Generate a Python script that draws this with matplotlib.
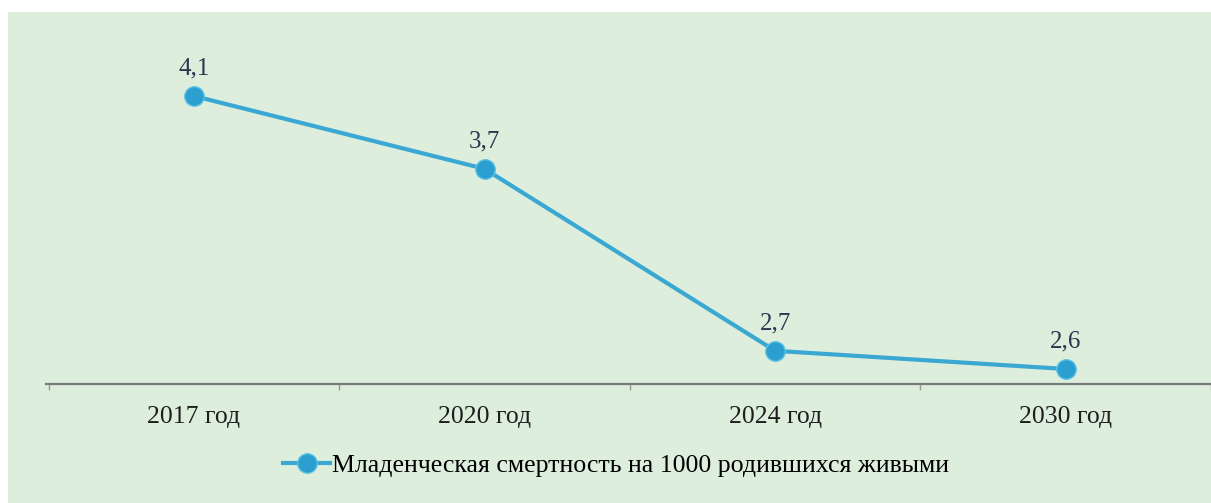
import numpy as np
import matplotlib
matplotlib.use('Agg')
import matplotlib.pyplot as plt
from matplotlib.patches import Rectangle

# данные с графика
years = ['2017 год', '2020 год', '2024 год', '2030 год']
values = [4.1, 3.7, 2.7, 2.6]
value_labels = ['4,1', '3,7', '2,7', '2,6']
series_name = 'Младенческая смертность на 1000 родившихся живыми'

plt.rcParams['font.family'] = ['Liberation Serif', 'DejaVu Serif']

W, H = 1211, 503
fig = plt.figure(figsize=(W / 100, H / 100), dpi=100)
fig.patch.set_facecolor('white')

# светло-зелёная подложка
fig.add_artist(Rectangle((8 / W, 0), 1, (H - 12) / H, transform=fig.transFigure,
                         facecolor='#ddefdc', edgecolor='none', zorder=0))

ax = fig.add_axes([46 / W, (H - 384) / H, (W - 46) / W, (384 - 30) / H])
ax.set_facecolor('none')

x = np.arange(len(years))
line_color = '#3aa8d3'
ax.plot(x, values, color=line_color, lw=3.0, marker='o', markersize=14,
        markerfacecolor='#2a9fd0', markeredgecolor='#5cc2e4', markeredgewidth=1,
        label=series_name, zorder=3)

for xi, v, lab in zip(x, values, value_labels):
    ax.annotate(lab, (xi, v), xytext=(0, 12), textcoords='offset points',
                ha='center', va='bottom', fontsize=18, color='#2e3550')

ax.set_xlim(-0.509, 3.471)
ax.set_ylim(2.5176, 4.4627)

for s in ['top', 'right', 'left']:
    ax.spines[s].set_visible(False)
ax.spines['bottom'].set_color('#7a7a7a')
ax.spines['bottom'].set_linewidth(1.6)

ax.set_yticks([])
ax.set_xticks(x)
ax.set_xticklabels(years, fontsize=18.5, color='#1e1e1e')
ax.tick_params(axis='x', which='major', length=0, pad=16)
ax.set_xticks(np.arange(-0.5, 4, 1), minor=True)
ax.tick_params(axis='x', which='minor', length=4, color='#9a9a9a', width=1)

fig.legend(loc='center', bbox_to_anchor=(0.509, 0.074), frameon=False,
           fontsize=18.6, handlelength=1.8, handletextpad=0.1, borderaxespad=0)

plt.savefig('out.png', dpi=100)
